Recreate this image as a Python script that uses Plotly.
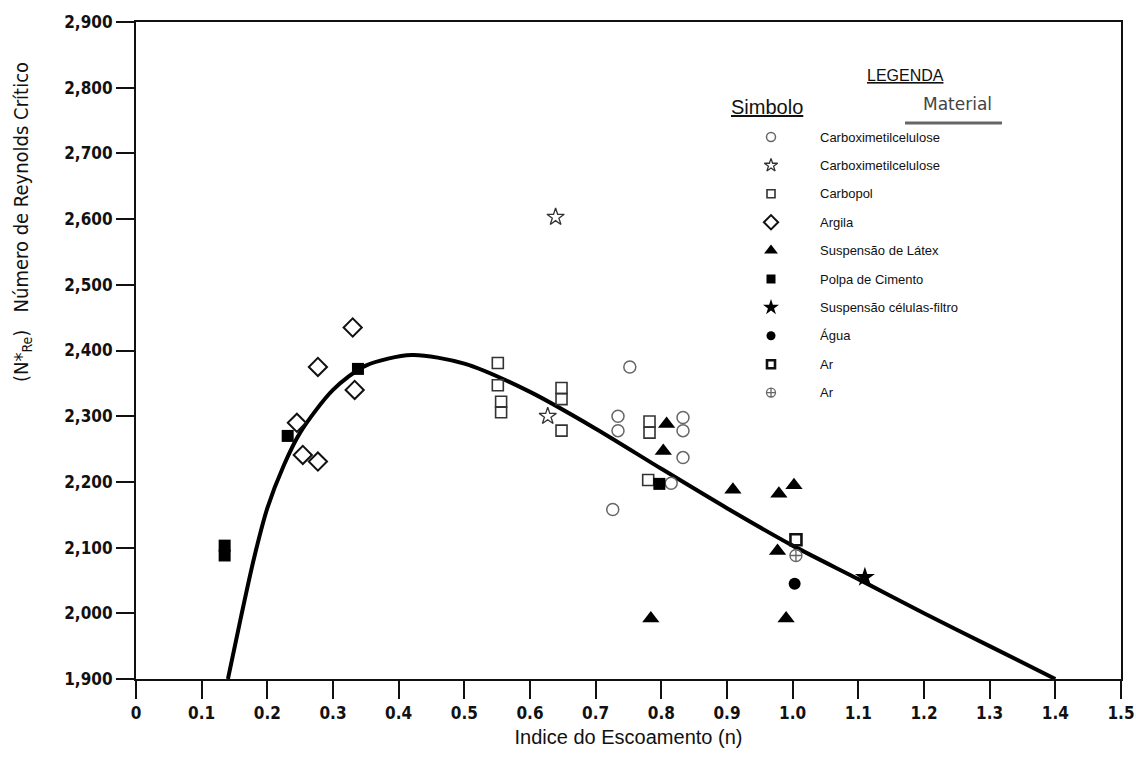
import plotly.graph_objects as go

# ---- data ----
cmc_circle_x = [0.752, 0.734, 0.734, 0.726, 0.833, 0.833, 0.833, 0.815]
cmc_circle_y = [2375, 2300, 2278, 2158, 2298, 2278, 2237, 2198]

cmc_star_x = [0.639, 0.627]
cmc_star_y = [2603, 2300]

carbopol_x = [0.551, 0.551, 0.556, 0.556, 0.648, 0.648, 0.648, 0.782, 0.782, 0.780]
carbopol_y = [2381, 2347, 2322, 2306, 2343, 2326, 2278, 2292, 2275, 2203]

argila_x = [0.330, 0.277, 0.333, 0.245, 0.254, 0.277]
argila_y = [2435, 2375, 2340, 2290, 2241, 2231]

latex_x = [0.808, 0.803, 0.909, 0.979, 1.002, 0.977, 0.784, 0.990]
latex_y = [2288, 2247, 2188, 2182, 2195, 2095, 1992, 1992]

cimento_x = [0.135, 0.135, 0.231, 0.338, 0.797]
cimento_y = [2103, 2088, 2270, 2372, 2197]

celulas_x = [1.11]
celulas_y = [2055]

agua_x = [1.003]
agua_y = [2045]

ar1_x = [1.005]
ar1_y = [2112]

ar2_x = [1.005]
ar2_y = [2088]

curve_x = [0.14, 0.16, 0.18, 0.20, 0.225, 0.25, 0.30, 0.35, 0.42, 0.50, 0.60, 0.70, 0.80, 0.90, 1.00, 1.10, 1.20, 1.30, 1.40]
curve_y = [1900, 1995, 2085, 2160, 2225, 2275, 2340, 2377, 2393, 2380, 2337, 2281, 2220, 2160, 2103, 2052, 2000, 1950, 1900]

x_ticks = [0, 0.1, 0.2, 0.3, 0.4, 0.5, 0.6, 0.7, 0.8, 0.9, 1.0, 1.1, 1.2, 1.3, 1.4, 1.5]
x_tick_labels = ["0", "0.1", "0.2", "0.3", "0.4", "0.5", "0.6", "0.7", "0.8", "0.9", "1.0", "1.1", "1.2", "1.3", "1.4", "1.5"]
y_ticks = [1900, 2000, 2100, 2200, 2300, 2400, 2500, 2600, 2700, 2800, 2900]
y_tick_labels = ["1,900", "2,000", "2,100", "2,200", "2,300", "2,400", "2,500", "2,600", "2,700", "2,800", "2,900"]

legend_names = ["Carboximetilcelulose", "Carboximetilcelulose", "Carbopol", "Argila",
                "Suspensão de Látex", "Polpa de Cimento", "Suspensão células-filtro",
                "Água", "Ar", "Ar"]

# ---- styles ----
styles = [
    dict(symbol="circle-open", size=12, color="#666", line=dict(width=1.5, color="#666")),
    dict(symbol="star-open", size=13, color="#333", line=dict(width=1.3, color="#333")),
    dict(symbol="square-open", size=11, color="#333", line=dict(width=1.6, color="#333")),
    dict(symbol="diamond-open", size=14, color="#111", line=dict(width=2, color="#111")),
    dict(symbol="triangle-up", size=15, color="#000", line=dict(width=0, color="#000")),
    dict(symbol="square", size=12, color="#000", line=dict(width=0, color="#000")),
    dict(symbol="star", size=15, color="#000", line=dict(width=0, color="#000")),
    dict(symbol="circle", size=12, color="#000", line=dict(width=0, color="#000")),
    dict(symbol="square-open", size=11, color="#111", line=dict(width=2.6, color="#111")),
    dict(symbol="circle-cross-open", size=12, color="#666", line=dict(width=1.3, color="#666")),
]
series = [
    (cmc_circle_x, cmc_circle_y), (cmc_star_x, cmc_star_y), (carbopol_x, carbopol_y),
    (argila_x, argila_y), (latex_x, latex_y), (cimento_x, cimento_y),
    (celulas_x, celulas_y), (agua_x, agua_y), (ar1_x, ar1_y), (ar2_x, ar2_y),
]

fig = go.Figure()

# curve
fig.add_trace(go.Scatter(x=curve_x, y=curve_y, mode="lines",
                         line=dict(color="black", width=4, shape="spline", smoothing=0.8),
                         hoverinfo="skip", showlegend=False))

for (xs, ys), st, nm in zip(series, styles, legend_names):
    fig.add_trace(go.Scatter(x=xs, y=ys, mode="markers", name=nm, showlegend=False,
                             marker=dict(symbol=st["symbol"], size=st["size"], color=st["color"],
                                         line=st["line"])))

# ---- custom legend on an overlay axis measured in pixels ----
L, R, T, B = 136, 1121, 22, 679
row_top, row_step = 137, 28.4
sym_x, text_x = 771, 818
for i, (st, nm) in enumerate(zip(styles, legend_names)):
    yy = row_top + i * row_step
    fig.add_trace(go.Scatter(x=[sym_x], y=[yy], mode="markers", xaxis="x2", yaxis="y2",
                             showlegend=False, hoverinfo="skip",
                             marker=dict(symbol=st["symbol"], size=st["size"] - 3, color=st["color"],
                                         line=st["line"])))
    fig.add_annotation(x=text_x, y=yy, xref="x2", yref="y2", text=nm, showarrow=False,
                       xanchor="left", yanchor="middle",
                       font=dict(family="Liberation Sans, Arial, sans-serif", size=13, color="#111"))

fig.add_annotation(x=905, y=75, xref="x2", yref="y2", text="<u>LEGENDA</u>", showarrow=False,
                   xanchor="center", yanchor="middle",
                   font=dict(family="Liberation Sans, Arial, sans-serif", size=16, color="#111"))
fig.add_annotation(x=767, y=107, xref="x2", yref="y2", text="<u>Simbolo</u>", showarrow=False,
                   xanchor="center", yanchor="middle",
                   font=dict(family="Liberation Sans, Arial, sans-serif", size=20, color="#111"))
fig.add_annotation(x=957, y=104, xref="x2", yref="y2", text="Material", showarrow=False,
                   xanchor="center", yanchor="middle",
                   font=dict(family="DejaVu Sans, sans-serif", size=17, color="#444"))
fig.add_shape(type="line", xref="x2", yref="y2", x0=905, x1=1002, y0=123, y1=123,
              line=dict(color="#666", width=3))

# y axis title (placed higher than the axis centre, as in the original)
fig.add_annotation(x=(22 - L) / (R - L), y=(B - 222) / (B - T), xref="paper", yref="paper",
                   text="(N*<sub>Re</sub>)   Número de Reynolds Crítico", textangle=-90,
                   showarrow=False, xanchor="center", yanchor="middle",
                   font=dict(family="Liberation Sans Narrow, DejaVu Sans Condensed, sans-serif",
                             size=20, color="#111"))

axis_font = dict(family="Liberation Sans Narrow, DejaVu Sans Condensed, Arial Narrow, sans-serif",
                 size=17, color="#111", weight="bold")

fig.update_layout(
    width=1136, height=770,
    margin=dict(l=L, r=1136 - R, t=T, b=770 - B, autoexpand=False),
    paper_bgcolor="white", plot_bgcolor="white",
    xaxis=dict(range=[0, 1.5], tickvals=x_ticks, ticktext=x_tick_labels, automargin=False,
               showgrid=False, zeroline=False, showline=True, linecolor="#111", linewidth=2,
               mirror=True, ticks="outside", ticklen=18, tickwidth=2, tickcolor="#111",
               tickfont=axis_font,
               title=dict(text="Indice do Escoamento (n)", standoff=8,
                          font=dict(family="Liberation Sans, Arial, sans-serif", size=20, color="#111"))),
    yaxis=dict(range=[1900, 2900], tickvals=y_ticks, ticktext=y_tick_labels, automargin=False,
               showgrid=False, zeroline=False, showline=True, linecolor="#111", linewidth=2,
               mirror=True, ticks="outside", ticklen=18, tickwidth=2, tickcolor="#111",
               tickfont=axis_font),
    xaxis2=dict(range=[L, R], overlaying="x", visible=False, fixedrange=True),
    yaxis2=dict(range=[B, T], overlaying="y", visible=False, fixedrange=True),
    showlegend=False,
)

fig.write_html("out.html")
